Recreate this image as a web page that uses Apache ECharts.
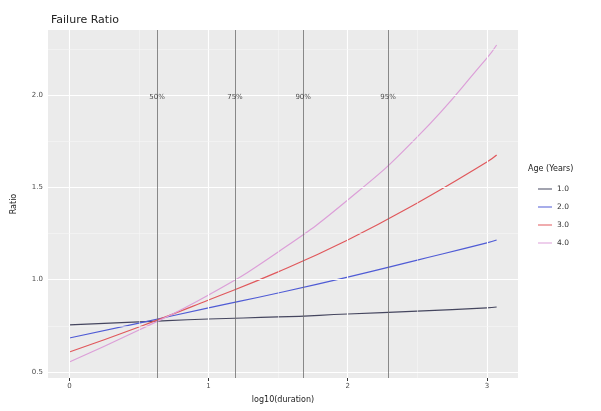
<!DOCTYPE html>
<html>
<head>
<meta charset="utf-8">
<script src="https://cdn.jsdelivr.net/npm/echarts@6/dist/echarts.min.js"></script>
<style>
  html, body { margin: 0; padding: 0; background: #fff; }
  #chart { width: 601px; height: 411px; }
</style>
</head>
<body>
<div id="chart"></div>
<script>
// log10(duration) sample positions
const durationLog = [0, 0.5, 1.0, 1.5, 2.0, 2.5, 3.0, 3.07];
// failure ratio per age group
const ageNames = ['1.0', '2.0', '3.0', '4.0'];
const ratioAge1 = [0.755, 0.771, 0.787, 0.798, 0.814, 0.830, 0.847, 0.852];
const ratioAge2 = [0.684, 0.765, 0.847, 0.928, 1.014, 1.106, 1.199, 1.215];
const ratioAge3 = [0.608, 0.744, 0.890, 1.042, 1.215, 1.415, 1.637, 1.675];
const ratioAge4 = [0.554, 0.727, 0.917, 1.150, 1.431, 1.773, 2.200, 2.271];
// percentile markers on the duration axis
const pctNames = ['50%', '75%', '90%', '95%'];
const pctPositions = [0.63, 1.19, 1.68, 2.29];
const pctLabelY = 1.99;
// axis ticks
const xTicks = [0, 1, 2, 3];
const xMinor = [0.5, 1.5, 2.5];
const yTicks = [0.5, 1.0, 1.5, 2.0];
const yMinor = [0.75, 1.25, 1.75, 2.25];

const colors = ['#45465f', '#4f5bd5', '#e0585c', '#dc9fd8'];
const ratios = [ratioAge1, ratioAge2, ratioAge3, ratioAge4];

const chart = echarts.init(document.getElementById('chart'));

const lineSeries = ageNames.map((name, i) => ({
  name: name,
  type: 'line',
  data: durationLog.map((x, j) => [x, ratios[i][j]]),
  showSymbol: false,
  smooth: true,
  lineStyle: { color: colors[i], width: 1.2 },
  itemStyle: { color: colors[i] },
  z: 4
}));

const gridSeries = {
  type: 'line',
  data: [],
  silent: true,
  z: 1,
  markLine: {
    silent: true,
    symbol: 'none',
    animation: false,
    label: { show: false },
    data: [
      ...xTicks.map(v => ({ xAxis: v, lineStyle: { color: '#ffffff', width: 1.1, type: 'solid' } })),
      ...xMinor.map(v => ({ xAxis: v, lineStyle: { color: '#f6f6f6', width: 0.6, type: 'solid' } })),
      ...yTicks.map(v => ({ yAxis: v, lineStyle: { color: '#ffffff', width: 1.1, type: 'solid' } })),
      ...yMinor.map(v => ({ yAxis: v, lineStyle: { color: '#f6f6f6', width: 0.6, type: 'solid' } }))
    ]
  }
};

const pctLineSeries = {
  type: 'line',
  data: [],
  silent: true,
  z: 3,
  markLine: {
    silent: true,
    symbol: 'none',
    animation: false,
    label: { show: false },
    lineStyle: { color: '#6e6e6e', width: 0.8, type: 'solid' },
    data: pctPositions.map(v => ({ xAxis: v }))
  }
};

const pctLabelSeries = {
  type: 'scatter',
  silent: true,
  symbolSize: 0,
  z: 5,
  data: pctPositions.map((x, i) => ({ value: [x, pctLabelY], name: pctNames[i] })),
  label: {
    show: true,
    position: 'inside',
    formatter: p => p.name,
    fontSize: 7,
    color: '#222222',
    fontFamily: 'DejaVu Sans'
  }
};

chart.setOption({
  animation: false,
  color: colors,
  title: {
    text: 'Failure Ratio',
    left: 46,
    top: 10,
    textStyle: { fontSize: 11, fontWeight: 'normal', color: '#222', fontFamily: 'DejaVu Sans' }
  },
  grid: {
    left: 48, right: 83, top: 30, bottom: 33,
    show: true, backgroundColor: '#ebebeb', borderWidth: 0
  },
  legend: {
    data: ageNames,
    orient: 'vertical',
    left: 533,
    top: 179,
    itemGap: 8,
    itemWidth: 14,
    itemHeight: 10,
    icon: 'path://M0,4.5 L14,4.5 L14,5.5 L0,5.5 Z',
    textStyle: { fontSize: 7.5, color: '#333', fontFamily: 'DejaVu Sans', height: 10, lineHeight: 10 }
  },
  graphic: [{
    type: 'text',
    left: 528,
    top: 165,
    style: { text: 'Age (Years)', fontSize: 8, fill: '#222', fontFamily: 'DejaVu Sans' }
  }],
  xAxis: {
    type: 'value',
    min: -0.1535,
    max: 3.2235,
    name: 'log10(duration)',
    nameLocation: 'middle',
    nameGap: 18,
    nameTextStyle: { fontSize: 8, color: '#222', fontFamily: 'DejaVu Sans' },
    axisLine: { show: false },
    axisTick: { show: true, customValues: xTicks, length: 3, lineStyle: { color: '#333' } },
    axisLabel: { customValues: xTicks, fontSize: 7, color: '#4d4d4d', margin: 5, fontFamily: 'DejaVu Sans' },
    splitLine: { show: false }
  },
  yAxis: {
    type: 'value',
    min: 0.4675,
    max: 2.352,
    name: 'Ratio',
    nameLocation: 'middle',
    nameGap: 30,
    nameTextStyle: { fontSize: 8, color: '#222', fontFamily: 'DejaVu Sans' },
    axisLine: { show: false },
    axisTick: { show: true, customValues: yTicks, length: 3, lineStyle: { color: '#333' } },
    axisLabel: { customValues: yTicks, fontSize: 7, color: '#4d4d4d', margin: 5, fontFamily: 'DejaVu Sans',
      formatter: v => v.toFixed(1) },
    splitLine: { show: false }
  },
  series: [gridSeries, pctLineSeries, ...lineSeries, pctLabelSeries]
});
</script>
</body>
</html>
